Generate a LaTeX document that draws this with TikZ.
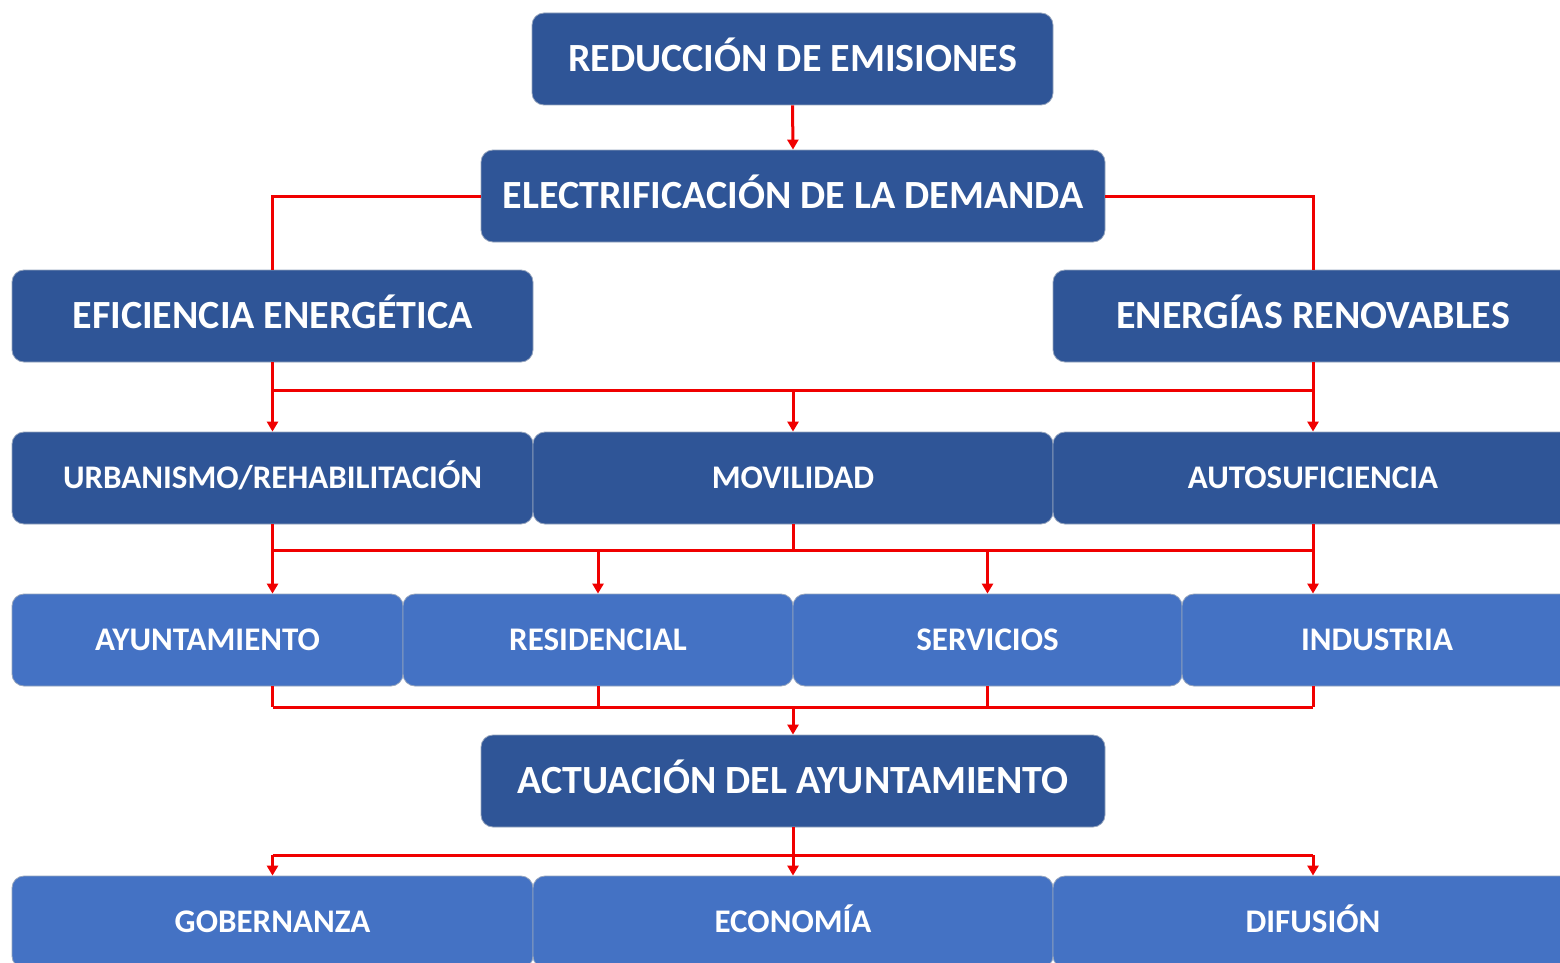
\documentclass[tikz,border=0pt]{standalone}
\usepackage{fontspec}
\setmainfont{Carlito}
\usetikzlibrary{arrows.meta,calc}
\definecolor{dkblue}{RGB}{47,85,151}
\definecolor{ltblue}{RGB}{68,114,196}
\definecolor{edge}{RGB}{150,165,190}
\definecolor{lnred}{RGB}{240,0,0}
\tikzset{
  box/.style={rounded corners=12pt, draw=edge, line width=0.8pt, text=white,
    font=\bfseries, inner sep=0pt, minimum height=92pt, text depth=0pt},
  big/.style={box, fill=dkblue, font=\bfseries\fontsize{40}{46}\selectfont, text height=25.8pt},
  mid/.style={box, fill=dkblue, font=\bfseries\fontsize{33}{38}\selectfont, text height=21.3pt},
  small/.style={box, fill=ltblue, font=\bfseries\fontsize{33}{38}\selectfont, text height=21.3pt},
  ln/.style={draw=lnred, line width=3pt},
  arr/.style={ln, -{Triangle[width=11pt,length=10pt]}}
}
\begin{document}
\begin{tikzpicture}[x=1pt,y=-1pt]
\useasboundingbox (0,0) rectangle (1560,963);
\clip (0,0) rectangle (1560,963);
\fill[white] (0,0) rectangle (1560,963);
% boxes
\node[big, minimum width=521pt] (red) at (792.5,59) {REDUCCIÓN DE EMISIONES};
\node[big, minimum width=624pt] (elec) at (793,196) {ELECTRIFICACIÓN DE LA DEMANDA};
\node[big, minimum width=521pt] (efi) at (272.5,316) {EFICIENCIA ENERGÉTICA};
\node[big, minimum width=520pt] (ener) at (1313,316) {ENERGÍAS RENOVABLES};
\node[mid, minimum width=521pt] (urb) at (272.5,478) {URBANISMO/REHABILITACIÓN};
\node[mid, minimum width=520pt] (mov) at (793,478) {MOVILIDAD};
\node[mid, minimum width=520pt] (auto) at (1313,478) {AUTOSUFICIENCIA};
\node[small, minimum width=391pt] (ayu) at (207.5,640) {AYUNTAMIENTO};
\node[small, minimum width=390pt] (res) at (598,640) {RESIDENCIAL};
\node[small, minimum width=389pt] (ser) at (987.5,640) {SERVICIOS};
\node[small, minimum width=390pt] (ind) at (1377,640) {INDUSTRIA};
\node[big, minimum width=624pt] (act) at (793,781) {ACTUACIÓN DEL AYUNTAMIENTO};
\node[small, minimum width=521pt] (gob) at (272.5,922) {GOBERNANZA};
\node[small, minimum width=520pt] (eco) at (793,922) {ECONOMÍA};
\node[small, minimum width=520pt] (dif) at (1313,922) {DIFUSIÓN};
% helper levels
\coordinate (h1) at (0,390);
\coordinate (h2) at (0,550);
\coordinate (h3) at (0,707);
\coordinate (h4) at (0,855);
% connectors
\draw[arr] (red.south) -- (elec.north);
\draw[ln] (elec.west) -| (efi.north);
\draw[ln] (elec.east) -| (ener.north);
\draw[arr] (efi.south) -- (urb.north);
\draw[arr] (ener.south) -- (auto.north);
\draw[ln] (efi.south |- h1) -- (ener.south |- h1);
\draw[arr] (mov.north |- h1) -- (mov.north);
\draw[arr] (urb.south) -- (urb.south |- ayu.north);
\draw[arr] (auto.south) -- (auto.south |- ind.north);
\draw[ln] (mov.south) -- (mov.south |- h2);
\draw[ln] (urb.south |- h2) -- (auto.south |- h2);
\draw[arr] (res.north |- h2) -- (res.north);
\draw[arr] (ser.north |- h2) -- (ser.north);
\draw[ln] (urb.south |- ayu.south) -- (urb.south |- h3);
\draw[ln] (res.south) -- (res.south |- h3);
\draw[ln] (ser.south) -- (ser.south |- h3);
\draw[ln] (auto.south |- ind.south) -- (auto.south |- h3);
\draw[ln] (urb.south |- h3) -- (auto.south |- h3);
\draw[arr] (act.north |- h3) -- (act.north);
\draw[arr] (act.south) -- (eco.north);
\draw[ln] (gob.north |- h4) -- (dif.north |- h4);
\draw[arr] (gob.north |- h4) -- (gob.north);
\draw[arr] (dif.north |- h4) -- (dif.north);
\end{tikzpicture}
\end{document}
